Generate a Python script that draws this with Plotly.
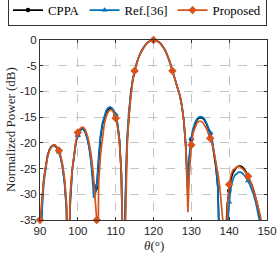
import plotly.graph_objects as go

# ---------------- data ----------------
series_names = ["CPPA", "Ref.[36]", "Proposed"]

main_lobe_theta = [115.5, 116, 116.5, 117, 117.5, 118, 118.5, 119, 119.5, 120,
                   120.5, 121, 121.5, 122, 122.5, 123, 123.5, 124, 124.5, 125,
                   125.5, 126, 126.5, 127, 127.5, 128]
main_lobe_db = [-4.6, -3.5, -2.6, -1.9, -1.3, -0.8, -0.45, -0.2, -0.05, 0,
                -0.05, -0.2, -0.45, -0.8, -1.3, -1.9, -2.7, -3.6, -4.7, -6.0,
                -7.2, -8.3, -9.5, -10.9, -12.8, -15.6]

theta_cppa = ([90, 90.5, 91, 91.5, 92, 92.5, 93, 93.5, 94, 94.5, 95, 95.5, 96, 96.5, 97, 97.35,
               98, 98.5, 99, 99.5, 100, 100.5, 101, 101.5, 102, 102.5, 103, 103.5, 104, 104.3, 104.6,
               105, 105.5, 106, 106.5, 107, 107.5, 108, 108.5, 109, 109.5, 110, 110.5, 111, 111.5,
               111.9, 112.1, 112.4, 112.5, 113, 113.5, 114, 114.5, 115]
              + main_lobe_theta +
              [128.5, 128.8, 129.1, 129.5, 130, 130.5, 131, 131.5, 132, 132.5, 133, 133.5, 134,
               134.5, 135, 135.5, 136, 136.5, 137, 137.5, 138.1, 139, 139.5, 140, 140.5, 141, 141.5,
               142, 142.5, 143, 143.5, 144, 144.5, 145, 145.5, 146, 146.5, 147, 147.5, 148, 148.5,
               149, 149.5, 150])
db_cppa = ([-45, -32, -27, -24.2, -22.4, -21.3, -20.7, -20.5, -20.6, -21.0, -21.7, -22.9, -24.8, -27.7, -32.5, -50,
            -31, -25.3, -21.9, -19.8, -18.5, -17.6, -17.3, -17.4, -18.0, -19.1, -20.8, -23.2, -26.8, -29.0, -29.8,
            -28.7, -23.5, -19.0, -16.5, -15.0, -14.0, -13.5, -13.3, -13.4, -13.9, -14.7, -16.5, -19.5, -26,
            -40, -55, -40, -34, -20, -14, -10.2, -7.8, -6.0]
           + main_lobe_db +
           [-20.5, -25.5, -29.8, -22.8, -19.4, -17.4, -16.2, -15.5, -15.2, -15.1, -15.2, -15.6, -16.3,
            -17.2, -18.3, -19.8, -21.9, -24.8, -28.6, -34.5, -55, -40, -32, -29.3, -27.0, -25.8, -25.1,
            -24.7, -24.5, -24.5, -24.7, -25.1, -25.7, -26.5, -27.3, -28.2, -29.3, -30.6, -32.1, -33.8, -35.6,
            -38, -41, -45])

theta_ref = ([90, 90.5, 91, 91.5, 92, 92.5, 93, 93.5, 94, 94.5, 95, 95.5, 96, 96.5, 97, 97.3,
              98, 98.5, 99, 99.5, 100, 100.5, 101, 101.5, 102, 102.5, 103, 103.5, 104, 104.2, 104.5,
              105, 105.5, 106, 106.5, 107, 107.5, 108, 108.5, 109, 109.5, 110, 110.5, 111, 111.5,
              111.8, 112, 112.3, 112.5, 113, 113.5, 114, 114.5, 115]
             + main_lobe_theta +
             [128.5, 128.8, 129.1, 129.5, 130, 130.5, 131, 131.5, 132, 132.5, 133, 133.5, 134,
              134.5, 135, 135.5, 136, 136.5, 137, 137.5, 137.8, 139, 139.5, 140, 140.5, 141, 141.5,
              142, 142.5, 143, 143.5, 144, 144.5, 145, 145.5, 146, 146.5, 147, 147.5, 148, 148.5,
              149, 149.5, 150])
db_ref = ([-45, -33.5, -27.8, -24.6, -22.6, -21.4, -20.8, -20.5, -20.6, -21.1, -21.8, -23.0, -25.0, -28.0, -33.0, -50,
           -32, -25.6, -22.1, -19.9, -18.6, -17.6, -17.2, -17.3, -17.9, -19.1, -21.0, -23.8, -28.5, -30.7, -30.0,
           -28.2, -22.5, -18.5, -16.1, -14.6, -13.7, -13.2, -13.0, -13.2, -13.7, -14.5, -16.2, -19.2, -26,
           -40, -55, -42, -32, -19.2, -13.6, -10.0, -7.7, -5.9]
          + main_lobe_db +
          [-20.0, -24.5, -28.4, -22.3, -19.1, -17.1, -16.0, -15.3, -15.0, -14.9, -15.0, -15.4, -16.1,
           -17.0, -18.0, -19.4, -21.5, -24.3, -28.5, -35, -55, -45, -38, -31.5, -28.6, -27.1, -26.3,
           -25.9, -25.7, -25.7, -25.9, -26.3, -26.8, -27.4, -28.2, -29.1, -30.2, -31.5, -33.0, -34.7, -36.8,
           -39.5, -42, -45])

theta_prop = ([90, 90.5, 91, 91.5, 92, 92.5, 93, 93.5, 94, 94.5, 95, 95.5, 96, 96.5, 97, 97.4,
               98, 98.5, 99, 99.5, 100, 100.5, 101, 101.5, 102, 102.5, 103, 103.5, 104, 104.5,
               105, 105.2, 105.5, 106, 106.5, 107, 107.5, 108, 108.5, 109, 109.5, 110, 110.5, 111, 111.5,
               112, 112.2, 112.5, 113, 113.5, 114, 114.5, 115]
              + main_lobe_theta +
              [128.5, 128.8, 129.1, 129.4, 129.7, 130, 130.5, 131, 131.5, 132, 132.5, 133, 133.5, 134,
               134.5, 135, 135.5, 136, 136.5, 137, 137.5, 138, 138.5, 139.1, 139.5, 140, 140.5, 141, 141.5,
               142, 142.5, 143, 143.5, 144, 144.5, 145, 145.5, 146, 146.5, 147, 147.5, 148, 148.5,
               149, 149.5, 150])
db_prop = ([-35, -30.5, -27.3, -24.6, -22.7, -21.6, -20.8, -20.4, -20.4, -20.8, -21.5, -22.6, -24.3, -27.0, -31.5, -50,
            -29.5, -25.3, -22.0, -19.6, -18.0, -17.3, -17.0, -17.0, -17.5, -18.5, -20.0, -22.2, -25.3, -29.8,
            -35, -55, -28, -22.3, -18.6, -16.3, -14.9, -14.0, -13.6, -13.6, -14.2, -15.2, -17.0, -19.9, -25.5,
            -40, -55, -40, -21.5, -14.5, -10.4, -7.9, -6.0]
           + main_lobe_db +
           [-20.3, -25.5, -33.5, -27.0, -23.0, -20.4, -18.0, -16.8, -16.1, -15.8, -15.8, -16.0, -16.5, -17.2,
            -18.1, -19.1, -20.3, -21.8, -23.6, -25.8, -28.5, -31.8, -36.5, -55, -33, -28.1, -26.2, -25.3, -24.9,
            -24.7, -24.6, -24.7, -25.0, -25.4, -25.9, -26.5, -27.3, -28.2, -29.3, -30.6, -32.0, -33.5, -35.2,
            -37.5, -40, -43])

marker_theta = [90, 95, 100, 105, 110, 115, 120, 125, 130, 135, 140, 145, 150]

x_tick_vals = [90, 100, 110, 120, 130, 140, 150]
x_tick_text = ["90", "100", "110", "120", "130", "140", "150"]
y_tick_vals = [0, -5, -10, -15, -20, -25, -30, -35]
y_tick_text = ["0", "-5", "-10", "-15", "-20", "-25", "-30", "-35"]

# ---------------- styles ----------------
colors = ["#000000", "#0072BD", "#D95319"]
symbols = ["circle", "triangle-up", "diamond"]
msizes = [4.5, 5.5, 6.5]
Y_MIN, Y_MAX = -35, 0
SERIF = "Liberation Serif"
SANS = "Liberation Sans"

fig = go.Figure()
all_data = [(theta_cppa, db_cppa), (theta_ref, db_ref), (theta_prop, db_prop)]
for name, (th, db), c, s, ms in zip(series_names, all_data, colors, symbols, msizes):
    fig.add_trace(go.Scatter(x=th, y=db, mode="lines", line=dict(color=c, width=1.7),
                             showlegend=False, hoverinfo="skip", legendgroup=name))
    lookup = dict(zip(th, db))
    mx = [t for t in marker_theta if t in lookup and Y_MIN - 0.01 <= lookup[t] <= Y_MAX + 0.01]
    my = [lookup[t] for t in mx]
    fig.add_trace(go.Scatter(x=mx, y=my, mode="markers", cliponaxis=False,
                             marker=dict(color=c, symbol=s, size=ms, line=dict(width=0)),
                             showlegend=False, legendgroup=name))
    fig.add_trace(go.Scatter(x=[None], y=[None], mode="lines+markers", name=name,
                             line=dict(color=c, width=1.7),
                             marker=dict(color=c, symbol=s, size=ms), legendgroup=name))

fig.update_layout(
    width=278, height=257,
    margin=dict(l=40, r=11, t=40, b=37, autoexpand=False),
    paper_bgcolor="white", plot_bgcolor="white",
    showlegend=True,
    legend=dict(orientation="h", x=-0.141, xanchor="left", y=1.165, yanchor="middle",
                font=dict(family=SERIF, size=12.8, color="#000"),
                bordercolor="#333", borderwidth=1, bgcolor="white",
                itemclick=False),
    xaxis=dict(range=[90, 150], tickvals=x_tick_vals, ticktext=x_tick_text,
               showline=True, mirror="ticks", linecolor="#333", linewidth=1,
               ticks="inside", ticklen=3, tickcolor="#333",
               showgrid=True, gridcolor="#c4c4c4", griddash="dash", gridwidth=1,
               zeroline=False, tickfont=dict(family=SANS, size=11.5, color="#262626")),
    yaxis=dict(range=[Y_MIN, Y_MAX], tickvals=y_tick_vals, ticktext=y_tick_text,
               showline=True, mirror="ticks", linecolor="#333", linewidth=1,
               ticks="inside", ticklen=3, tickcolor="#333",
               showgrid=True, gridcolor="#c4c4c4", griddash="dash", gridwidth=1,
               zeroline=False, tickfont=dict(family=SANS, size=11.5, color="#262626")),
    annotations=[
        dict(text="Normalized Power (dB)", xref="paper", yref="paper", x=-0.132, y=0.5,
             xanchor="center", yanchor="middle", textangle=-90, showarrow=False,
             font=dict(family=SERIF, size=13, color="#262626")),
        dict(text="<i>θ</i>(°)", xref="paper", yref="paper", x=0.5, y=-0.139,
             xanchor="center", yanchor="middle", showarrow=False,
             font=dict(family=SERIF, size=13, color="#262626")),
    ],
)

fig.write_html("out.html", config={"displayModeBar": False},
               post_script="document.body.style.margin='0';")
